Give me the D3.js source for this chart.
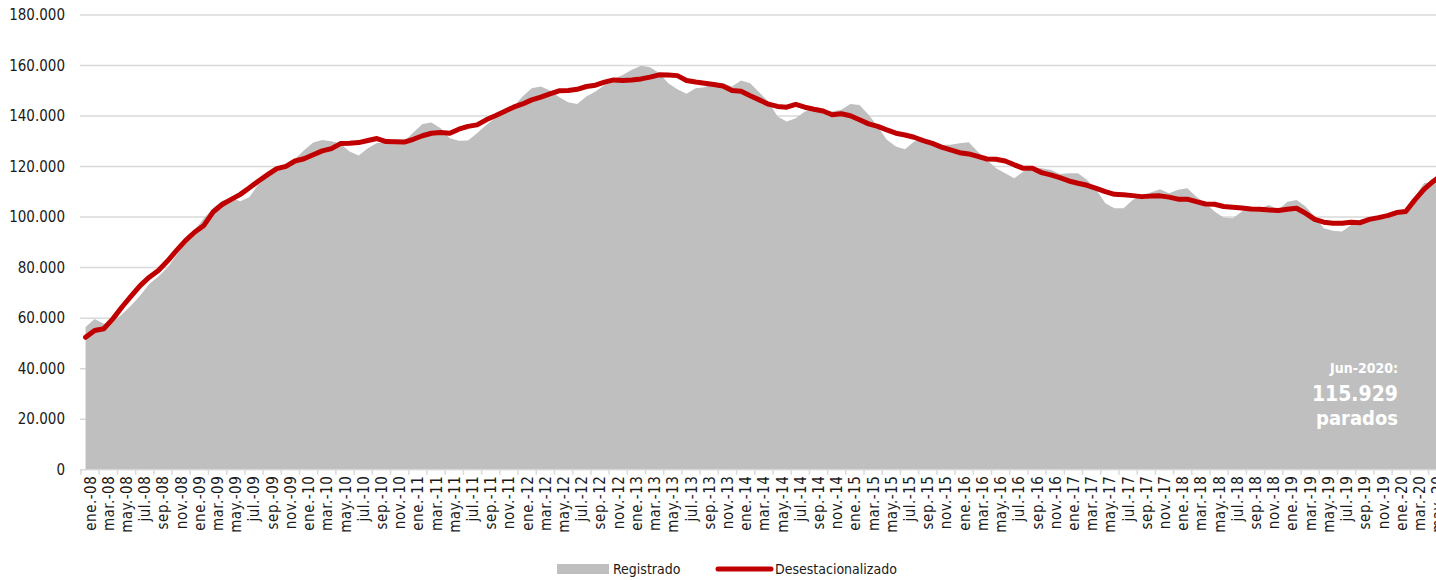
<!DOCTYPE html>
<html>
<head>
<meta charset="utf-8">
<script src="https://cdn.jsdelivr.net/npm/d3@7"></script>
<style>
  body { margin: 0; background: #fff; }
  text { font-family: "DejaVu Sans Condensed", "DejaVu Sans", sans-serif; }
</style>
</head>
<body>
<script>
var width = 1436, height = 580;
var axisLeft = 81, step = 9.105, plotTop = 15, plotBottom = 469.7;

var monthNames = ["ene.", "feb.", "mar.", "abr.", "may.", "jun.",
                  "jul.", "ago.", "sep.", "oct.", "nov.", "dic."];
var yTicks = [0, 20000, 40000, 60000, 80000, 100000, 120000, 140000, 160000, 180000];

// ene-08 .. jun-20, miles de parados
var registrado = [
  56.5, 59.7, 57.8, 58.4, 61.5, 65.0, 69.0, 73.5, 76.5, 80.0, 85.0, 90.0,
  95.0, 99.5, 103.5, 106.5, 107.5, 106.3, 108.0, 113.0, 116.5, 118.5, 120.5, 123.0,
  126.5, 129.5, 130.5, 130.0, 129.0, 126.0, 124.4, 127.3, 129.3, 129.3, 129.0, 130.0,
  133.5, 136.9, 137.4, 135.2, 131.2, 130.2, 130.3, 133.2, 136.5, 139.1, 141.1, 143.8,
  147.7, 151.0, 151.7, 150.1, 147.5, 145.5, 144.8, 147.7, 149.7, 152.3, 154.8, 156.2,
  158.3, 159.9, 159.3, 157.0, 153.0, 150.6, 148.8, 151.0, 151.4, 153.0, 153.0, 151.7,
  154.1, 153.0, 149.3, 145.8, 139.8, 137.8, 139.1, 141.8, 142.7, 142.0, 141.8, 142.5,
  144.8, 144.4, 140.5, 135.9, 130.6, 127.9, 126.9, 129.9, 130.6, 129.9, 128.6, 128.6,
  129.2, 129.6, 125.9, 122.6, 119.3, 117.4, 115.4, 118.0, 119.3, 119.3, 118.7, 117.1,
  117.4, 117.4, 114.7, 110.8, 105.5, 103.5, 103.5, 106.8, 108.8, 109.7, 111.0, 109.4,
  110.8, 111.4, 108.1, 105.5, 102.2, 99.8, 99.5, 102.2, 104.2, 103.5, 104.8, 102.8,
  106.1, 106.8, 104.2, 100.2, 95.6, 94.6, 94.3, 96.9, 98.9, 99.5, 99.1, 99.5,
  101.5, 102.2, 108.1, 113.4, 114.1, 115.929
];
var desestacionalizado = [
  52.4, 55.1, 55.8, 59.7, 64.4, 68.7, 72.9, 76.2, 78.9, 82.6, 86.8, 90.8,
  94.1, 96.7, 102.0, 105.0, 107.0, 109.0, 111.6, 114.3, 116.8, 119.2, 120.1, 122.2,
  123.1, 124.7, 126.2, 127.1, 129.1, 129.2, 129.5, 130.3, 131.1, 129.9, 129.8, 129.7,
  130.8, 132.2, 133.2, 133.5, 133.2, 134.8, 135.9, 136.5, 138.5, 140.1, 141.8, 143.5,
  144.8, 146.4, 147.5, 148.8, 150.0, 150.1, 150.6, 151.7, 152.2, 153.4, 154.3, 154.1,
  154.3, 154.7, 155.4, 156.3, 156.2, 156.0, 154.1, 153.5, 153.0, 152.5, 151.9, 150.1,
  149.8, 148.0, 146.4, 144.7, 143.8, 143.5, 144.6, 143.5, 142.7, 142.0, 140.5, 140.9,
  140.1, 138.5, 136.9, 135.9, 134.5, 133.2, 132.5, 131.6, 130.3, 129.2, 127.7, 126.6,
  125.5, 125.0, 124.0, 123.0, 122.9, 122.2, 120.7, 119.3, 119.3, 117.6, 116.7, 115.6,
  114.3, 113.4, 112.6, 111.4, 110.1, 109.0, 108.8, 108.5, 108.1, 108.3, 108.4, 107.9,
  107.1, 107.1, 106.1, 105.2, 105.1, 104.2, 103.9, 103.6, 103.2, 103.1, 102.8, 102.6,
  103.1, 103.5, 101.5, 99.1, 98.0, 97.6, 97.6, 98.0, 97.8, 99.1, 99.8, 100.6,
  101.8, 102.2, 106.8, 111.0, 114.1, 116.8
];

var months = registrado.map(function(d, i) {
  var yy = 8 + Math.floor(i / 12);
  return monthNames[i % 12] + "-" + (yy < 10 ? "0" + yy : yy);
});
var data = months.map(function(m, i) {
  return { m: m, reg: registrado[i] * 1000, des: desestacionalizado[i] * 1000 };
});

var x = d3.scaleBand().domain(months)
  .range([axisLeft, axisLeft + months.length * step]).padding(0);
var y = d3.scaleLinear().domain([0, 180000]).range([plotBottom, plotTop]);
var cx = function(d) { return x(d.m) + x.bandwidth() / 2; };
var fmt = function(v) { return d3.format(",")(v).replace(/,/g, "."); };

var svg = d3.select("body").append("svg")
  .attr("width", width).attr("height", height);

// gridlines
svg.append("g").selectAll("line").data(yTicks.slice(1))
  .enter().append("line")
  .attr("x1", 80).attr("x2", width)
  .attr("y1", function(d) { return y(d); }).attr("y2", function(d) { return y(d); })
  .attr("stroke", "#d9d9d9").attr("stroke-width", 1.5);

// y labels
svg.append("g").selectAll("text").data(yTicks)
  .enter().append("text")
  .attr("x", 65).attr("y", function(d) { return y(d) + 5; })
  .attr("text-anchor", "end").attr("font-size", 15).attr("fill", "#1a1a1a")
  .text(fmt);

// registrado area
svg.append("path").datum(data)
  .attr("fill", "#bfbfbf")
  .attr("d", d3.area().x(cx).y0(y(0)).y1(function(d) { return y(d.reg); }));

// x axis
svg.append("line")
  .attr("x1", 80).attr("x2", width).attr("y1", plotBottom).attr("y2", plotBottom)
  .attr("stroke", "#d9d9d9").attr("stroke-width", 1.5);

var tickIdx = d3.range(0, months.length + 1, 2);
svg.append("g").selectAll("line").data(tickIdx)
  .enter().append("line")
  .attr("x1", function(i) { return axisLeft + i * step; })
  .attr("x2", function(i) { return axisLeft + i * step; })
  .attr("y1", plotBottom).attr("y2", plotBottom + 5)
  .attr("stroke", "#d9d9d9").attr("stroke-width", 1.5);

svg.append("g").selectAll("text").data(months.filter(function(m, i) { return i % 2 === 0; }))
  .enter().append("text")
  .attr("transform", function(m) {
    return "translate(" + (x(m) + step + 5.5) + "," + (plotBottom + 6) + ") rotate(-90)";
  })
  .attr("text-anchor", "end").attr("font-size", 15).attr("letter-spacing", 0.5)
  .attr("font-family", "DejaVu Sans").attr("fill", "#1a1a1a")
  .text(function(m) { return m; });

// desestacionalizado line
svg.append("path").datum(data)
  .attr("fill", "none").attr("stroke", "#c00000").attr("stroke-width", 5)
  .attr("stroke-linejoin", "round").attr("stroke-linecap", "round")
  .attr("d", d3.line().x(cx).y(function(d) { return y(d.des); }));

// annotation
var ann = svg.append("g").attr("fill", "#fff").attr("font-weight", "bold")
  .attr("text-anchor", "end");
ann.append("text").attr("x", 1398).attr("y", 373).attr("font-size", 14).text("Jun-2020:");
ann.append("text").attr("x", 1398).attr("y", 401).attr("font-size", 21)
  .text(fmt(Math.round(registrado[registrado.length - 1] * 1000)));
ann.append("text").attr("x", 1398).attr("y", 425).attr("font-size", 20).text("parados");

// legend
var leg = svg.append("g").attr("font-family", "DejaVu Sans");
leg.append("rect").attr("x", 557).attr("y", 564).attr("width", 52).attr("height", 10)
  .attr("fill", "#bfbfbf");
leg.append("text").attr("x", 613).attr("y", 574).attr("font-size", 14).attr("fill", "#1a1a1a")
  .text("Registrado");
leg.append("line").attr("x1", 718).attr("x2", 771).attr("y1", 569).attr("y2", 569)
  .attr("stroke", "#c00000").attr("stroke-width", 5).attr("stroke-linecap", "round");
leg.append("text").attr("x", 775).attr("y", 574).attr("font-size", 14).attr("fill", "#1a1a1a")
  .text("Desestacionalizado");
</script>
</body>
</html>
